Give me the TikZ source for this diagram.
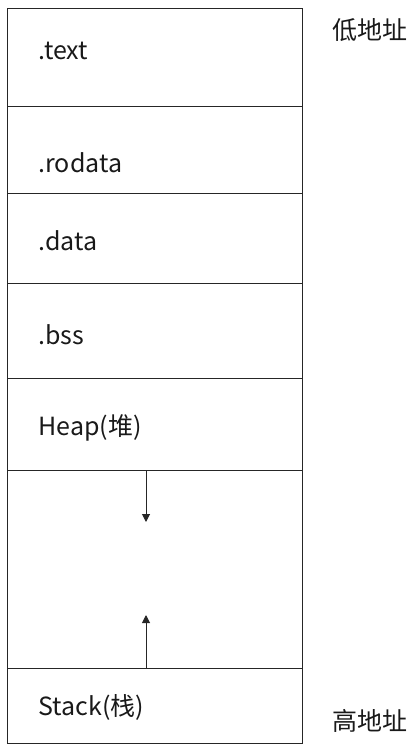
\documentclass[tikz,border=0pt]{standalone}
\usepackage{fontspec}
\setmainfont{Noto Sans CJK SC}
\usetikzlibrary{arrows.meta}

\begin{document}
\begin{tikzpicture}[x=1pt, y=-1pt, every node/.style={inner sep=0pt, font=\fontsize{25}{30}\selectfont, text=black!90}, every path/.style={line width=1pt},
    seg/.style={rectangle, draw=black!85, anchor=north west, minimum width=295pt},
    lab/.style={anchor=base west},
    growarrow/.style={draw=black!85, -{Triangle[length=8pt, width=8pt]}}]
        \useasboundingbox (0,0) rectangle (419,747);

        \node[seg, minimum height=98pt] (text) at (7,8) {};
        \node[seg, minimum height=87pt] (rodata) at (7,106) {};
        \node[seg, minimum height=90pt] (data) at (7,193) {};
        \node[seg, minimum height=95pt] (bss) at (7,283) {};
        \node[seg, minimum height=92pt] (heap) at (7,378) {};
        \node[seg, minimum height=198pt] (free) at (7,470) {};
        \node[seg, minimum height=75pt] (stack) at (7,668) {};

        \node[lab] (textlab) at (38,59) {.text};
        \node[lab] (rodatalab) at (38,172) {.rodata};
        \node[lab] (datalab) at (38,250) {.data};
        \node[lab] (bsslab) at (38,344) {.bss};
        \node[lab] (heaplab) at (38,435) {Heap(堆)};
        \node[lab] (stacklab) at (38,715) {Stack(栈)};

        \node[anchor=west] (low) at (332,30) {低地址};
        \node[anchor=west] (high) at (332,721) {高地址};

        \coordinate (heaptip) at (146,522);
        \coordinate (stacktip) at (146,615);
        \draw[growarrow] (free.north -| heaptip) -- (heaptip);
        \draw[growarrow] (stack.north -| stacktip) -- (stacktip);

\end{tikzpicture}
\end{document}
